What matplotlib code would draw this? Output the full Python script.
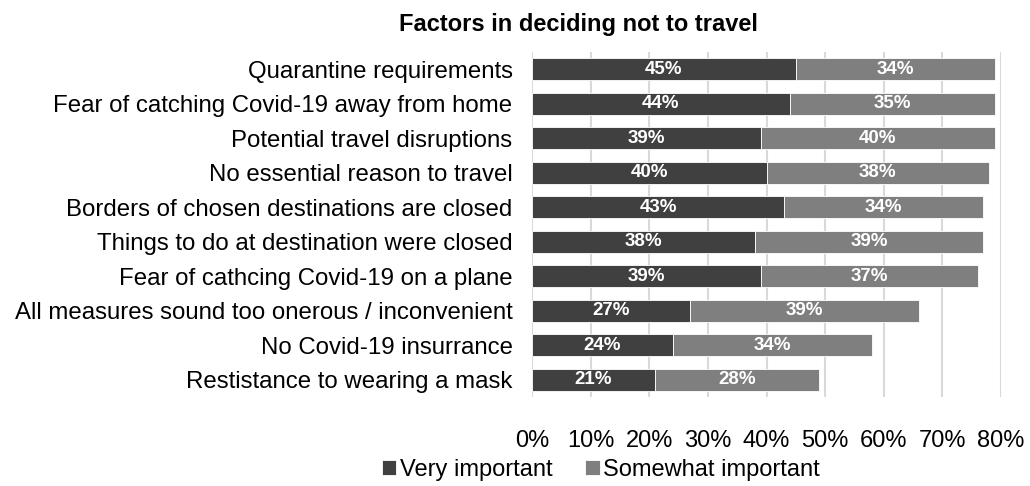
import numpy as np
import matplotlib.pyplot as plt

plt.rcParams['font.family'] = ['Liberation Sans', 'DejaVu Sans']

factors = ['Quarantine requirements',
           'Fear of catching Covid-19 away from home',
           'Potential travel disruptions',
           'No essential reason to travel',
           'Borders of chosen destinations are closed',
           'Things to do at destination were closed',
           'Fear of cathcing Covid-19 on a plane',
           'All measures sound too onerous / inconvenient',
           'No Covid-19 insurrance',
           'Restistance to wearing a mask']
very = [45, 44, 39, 40, 43, 38, 39, 27, 24, 21]
somewhat = [34, 35, 40, 38, 34, 39, 37, 39, 34, 28]
ticks = [0, 10, 20, 30, 40, 50, 60, 70, 80]

dark = '#404040'
light = '#7f7f7f'

fig = plt.figure(figsize=(10.3, 4.86), dpi=100)
ax = fig.add_axes([532 / 1030, 1 - 397 / 486, (1001 - 532) / 1030, 345 / 486])

y = np.arange(len(factors))
b1 = ax.barh(y, very, height=0.64, color=dark, edgecolor='white', linewidth=0.6,
             label='Very important', zorder=3)
b2 = ax.barh(y, somewhat, left=very, height=0.64, color=light, edgecolor='white',
             linewidth=0.6, label='Somewhat important', zorder=3)

for i in range(len(factors)):
    ax.text(very[i] / 2, y[i], f'{very[i]}%', ha='center', va='center',
            color='white', fontsize=13.5, fontweight='bold', zorder=4)
    ax.text(very[i] + somewhat[i] / 2, y[i], f'{somewhat[i]}%', ha='center',
            va='center', color='white', fontsize=13.5, fontweight='bold', zorder=4)

ax.set_xlim(0, 80)
ax.set_ylim(len(factors) - 0.5, -0.5)
ax.set_xticks(ticks)
ax.set_xticklabels([f'{t}%' for t in ticks])
ax.set_yticks(y)
ax.set_yticklabels(factors)
ax.tick_params(axis='x', length=0, pad=24, labelsize=17, colors='black')
ax.tick_params(axis='y', length=0, pad=14, labelsize=17.3, colors='black')
ax.xaxis.grid(True, color='#d9d9d9', linewidth=1.5, zorder=0)
ax.set_axisbelow(True)
for s in ax.spines.values():
    s.set_visible(False)

fig.text(578 / 1030, 1 - 24 / 486, 'Factors in deciding not to travel',
         ha='center', va='center', fontsize=17, fontweight='bold')

fig.legend(handles=[b1, b2], loc='center', bbox_to_anchor=(601 / 1030, 1 - 470 / 486),
           ncol=2, frameon=False, fontsize=17, handlelength=0.6, handleheight=0.6,
           handletextpad=0.15, columnspacing=1.4)

fig.savefig('out.png', dpi=100)
